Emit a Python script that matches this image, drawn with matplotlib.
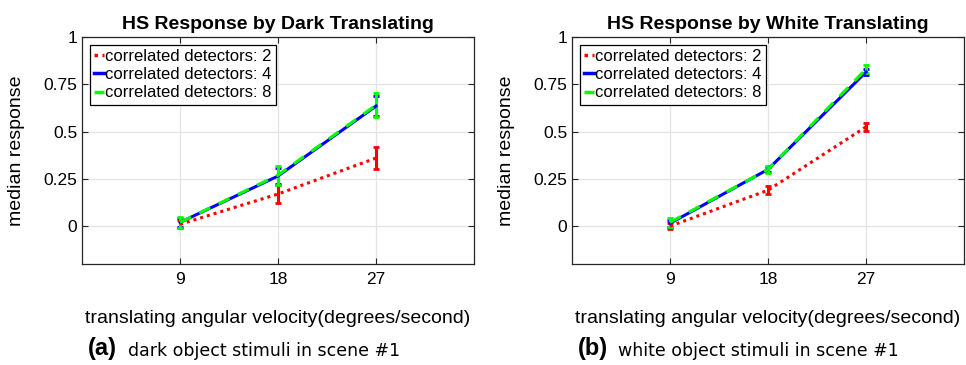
import matplotlib.pyplot as plt
from matplotlib.lines import Line2D

plt.rcParams["font.family"] = ["Liberation Sans", "DejaVu Sans"]

VELOCITY = [9, 18, 27]
DETECTORS = [2, 4, 8]

# dark object stimuli: median response and error half-width per detector count
DARK_MED = {
    2: [0.01, 0.17, 0.36],
    4: [0.02, 0.265, 0.635],
    8: [0.02, 0.27, 0.64],
}
DARK_ERR = {
    2: [0.02, 0.045, 0.06],
    4: [0.025, 0.04, 0.055],
    8: [0.03, 0.05, 0.065],
}

# white object stimuli
WHITE_MED = {
    2: [0.0, 0.19, 0.525],
    4: [0.015, 0.30, 0.815],
    8: [0.02, 0.30, 0.83],
}
WHITE_ERR = {
    2: [0.015, 0.02, 0.02],
    4: [0.02, 0.015, 0.015],
    8: [0.025, 0.02, 0.02],
}

TITLES = ["HS Response by Dark Translating", "HS Response by White Translating"]
CAPTION_TAGS = ["(a)", "(b)"]
CAPTIONS = ["dark object stimuli in scene #1", "white object stimuli in scene #1"]

STYLE = {
    2: dict(color="#ff0000", linestyle=(0, (1, 1.3))),
    4: dict(color="#0000ff", linestyle="-"),
    8: dict(color="#00ff00", linestyle=(0, (4, 3))),
}

W, H = 966, 365
fig = plt.figure(figsize=(W / 100, H / 100), dpi=100)


def px_axes(x0, y0, x1, y1):
    return fig.add_axes([x0 / W, 1 - y1 / H, (x1 - x0) / W, (y1 - y0) / H])


panels = [
    (px_axes(82, 37, 474, 264), DARK_MED, DARK_ERR),
    (px_axes(572, 37, 964, 264), WHITE_MED, WHITE_ERR),
]

for i, (ax, med, err) in enumerate(panels):
    handles = []
    for d in DETECTORS:
        st = STYLE[d]
        ax.errorbar(VELOCITY, med[d], yerr=err[d], color=st["color"],
                    linestyle=st["linestyle"], linewidth=2.2, elinewidth=2.2,
                    capsize=2, capthick=2)
        handles.append(Line2D([], [], color=st["color"], linestyle=st["linestyle"],
                              linewidth=2.5, label=f"correlated detectors: {d}"))
    ax.set_xlim(0, 36)
    ax.set_ylim(-0.2, 1)
    ax.set_xticks(VELOCITY)
    ax.set_yticks([0, 0.25, 0.5, 0.75, 1])
    ax.set_yticklabels(["0", "0.25", "0.5", "0.75", "1"])
    ax.grid(True, color="#e3e3e3", linewidth=0.9)
    ax.set_axisbelow(True)
    ax.tick_params(direction="in", length=4, width=0.8, labelsize=12.5,
                   top=True, right=True, colors="#262626", labelcolor="black")
    ax.tick_params(axis="x", pad=6)
    for sp in ax.spines.values():
        sp.set_color("#262626")
        sp.set_linewidth(0.9)
    ax.set_title(TITLES[i], fontsize=14, fontweight="bold", pad=6)
    ax.set_ylabel("median response", fontsize=14, labelpad=13)
    ax.set_xlabel("translating angular velocity(degrees/second)", fontsize=14, labelpad=16)
    leg = ax.legend(handles=handles, loc="upper left", fontsize=12, handlelength=0.6,
                    handletextpad=0.1, borderpad=0.25, labelspacing=0.2,
                    borderaxespad=0.45, fancybox=False, framealpha=1)
    leg.get_frame().set_edgecolor("black")
    leg.get_frame().set_linewidth(0.9)

# sub-figure captions
for i, x in enumerate([88, 578]):
    fig.text(x / W, 1 - 349 / H, CAPTION_TAGS[i], fontsize=17, fontweight="bold",
             va="center", ha="left")
    fig.text((x + 40) / W, 1 - 351 / H, CAPTIONS[i], fontsize=12.5,
             family=["DejaVu Sans"], va="center", ha="left")

fig.savefig("out.png", dpi=100)
